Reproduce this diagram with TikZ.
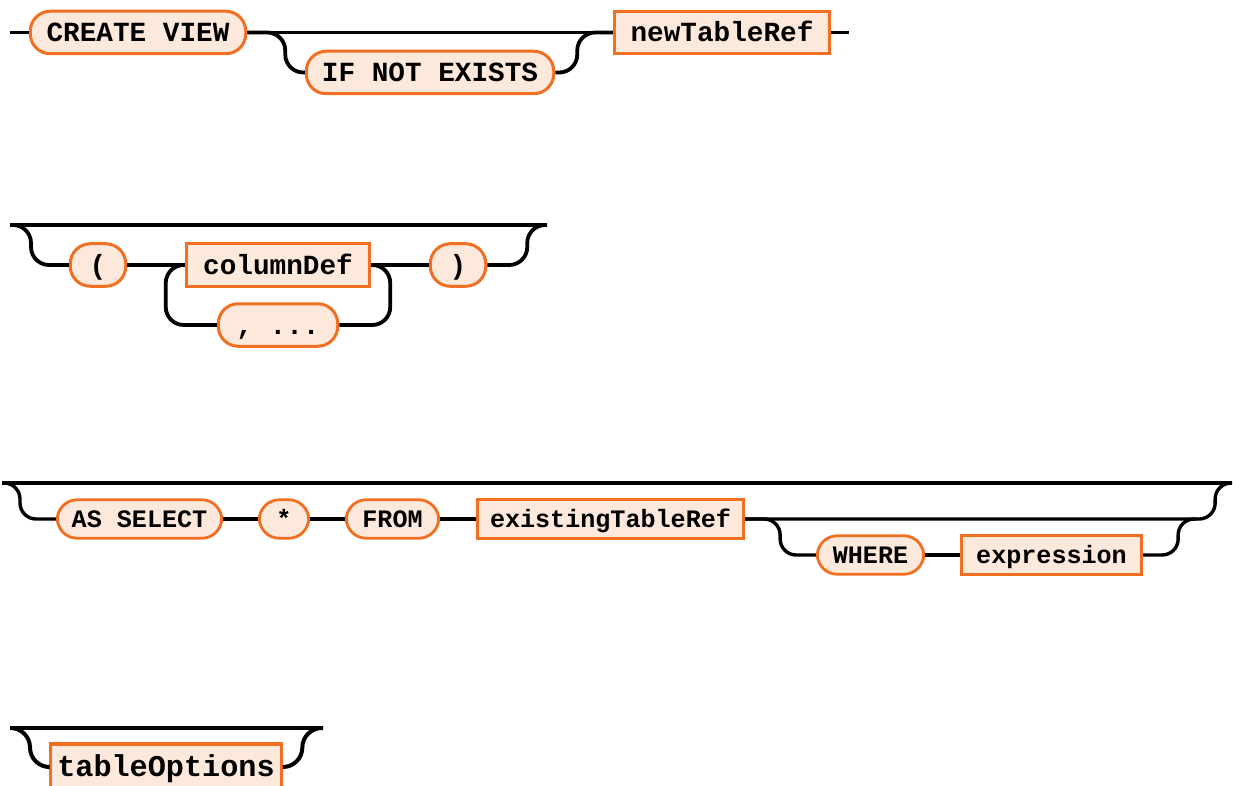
\documentclass[tikz,border=0pt]{standalone}
\usepackage{fontspec}
\newfontfamily\rrmono{Liberation Mono}
\definecolor{boxfill}{HTML}{FDE8DC}
\definecolor{boxline}{HTML}{F26F21}
\tikzset{
  trk/.style={line width=3.8pt, rounded corners=18pt},
  trkC/.style={line width=3.4pt, rounded corners=16pt},
  trkD/.style={line width=4pt, rounded corners=19.5pt},
  base/.style={draw=boxline, fill=boxfill, line width=3pt, inner xsep=0pt, inner ysep=0pt,
               text depth=0pt, anchor=center},
  rowAB/.style={font={\rrmono\bfseries\fontsize{27.7}{30}\selectfont}, minimum height=42.5pt, text height=18.3pt},
  rowC/.style={font={\rrmono\bfseries\fontsize{25.1}{28}\selectfont}, minimum height=38.5pt, line width=2.8pt, text height=16.6pt},
  rowD/.style={font={\rrmono\bfseries\fontsize{30.2}{33}\selectfont}, minimum height=46pt, line width=3.2pt, text height=19.9pt},
  term/.style={base, rounded corners=20pt},
  nterm/.style={base},
}
\begin{document}
\begin{tikzpicture}[x=1pt,y=-1pt]
\clip (0,0) rectangle (1233,786);
% ---------- row 1
\node[term,rowAB,minimum width=215.5pt] (cv) at (138,32.5) {CREATE VIEW};
\node[term,rowAB,minimum width=247.5pt] (ine) at (430,72.5) {IF NOT EXISTS};
\node[nterm,rowAB,minimum width=215.5pt] (ntr) at (722,32.5) {newTableRef};
\coordinate (s1) at (10,32.5);
\coordinate (e1) at (849,32.5);
\draw[trk] (s1) -- (cv.west);
\draw[trk] (cv.east) -- (ntr.west);
\draw[trk] (cv.east) -- ++(38,0) |- (ine.west);
\draw[trk] (ine.east) -- ++(22,0) |- (ntr.west);
\draw[trk] (ntr.east) -- (e1);
% ---------- row 2
\node[term,rowAB,minimum width=55.5pt] (lp) at (98,265) {(};
\node[nterm,rowAB,minimum width=183.5pt] (cd) at (278,265) {columnDef};
\node[term,rowAB,minimum width=119.5pt] (cm) at (278,325) {, ...};
\node[term,rowAB,minimum width=55.5pt] (rp) at (458,265) {)};
\coordinate (s2) at (10,225);
\coordinate (e2) at (547,225);
\draw[trk] (s2) -- (e2);
\draw[trk] (s2) -- ++(21,0) |- (lp.west);
\draw[trk] (lp.east) -- (cd.west);
\draw[trk] (cd.east) -- (rp.west);
\draw[trk] (rp.east) -- ++(40,0) |- (e2);
\draw[trk] (cd.east) -- ++(19,0) |- (cm.east);
\draw[trk] (cm.west) -- ++(-51,0) |- (cd.west);
% ---------- row 3
\node[term,rowC,minimum width=164.5pt] (as) at (139.5,519) {AS SELECT};
\node[term,rowC,minimum width=49.5pt] (st) at (284,519) {*};
\node[term,rowC,minimum width=92.5pt] (fr) at (392.5,519) {FROM};
\node[nterm,rowC,minimum width=266.5pt] (etr) at (610.5,519) {existingTableRef};
\node[term,rowC,minimum width=106.5pt] (wh) at (870.5,555) {WHERE};
\node[nterm,rowC,minimum width=180.5pt] (ex) at (1051.5,555) {expression};
\coordinate (s3) at (2,483);
\coordinate (e3) at (1232,483);
\coordinate (j3) at (1197,519);
\draw[trkC] (s3) -- (e3);
\draw[trkC] (s3) -- ++(18,0) |- (as.west);
\draw[trkC] (as.east) -- (st.west);
\draw[trkC] (st.east) -- (fr.west);
\draw[trkC] (fr.east) -- (etr.west);
\draw[trkC] (etr.east) -- ++(470,0) |- (e3);
\draw[trkC] (etr.east) -- ++(35,0) |- (wh.west);
\draw[trkC] (wh.east) -- (ex.west);
\draw[trkC] (ex.east) -- ++(35,0) |- (j3);
% ---------- row 4
\node[nterm,rowD,minimum width=231.5pt] (to) at (166,767) {tableOptions};
\coordinate (s4) at (10,728);
\coordinate (e4) at (323,728);
\draw[trkD] (s4) -- (e4);
\draw[trkD] (s4) -- ++(20,0) |- (to.west);
\draw[trkD] (to.east) -- ++(19,0) |- (e4);
\end{tikzpicture}
\end{document}
